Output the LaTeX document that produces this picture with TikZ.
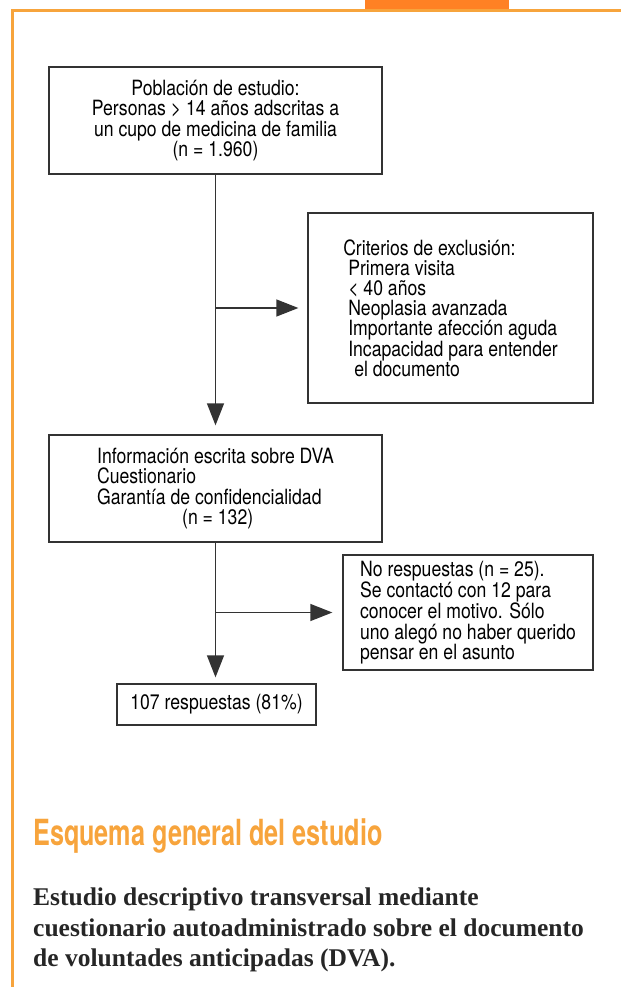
\documentclass[tikz,border=0pt]{standalone}
\usepackage{fontspec}
\setmainfont{TeX Gyre Heros}[FakeStretch=0.84]
\newfontfamily\titlefont{TeX Gyre Heros}[FakeStretch=0.70]
\newfontfamily\leadfont{Liberation Serif}
\usetikzlibrary{arrows.meta}
\definecolor{frameorange}{HTML}{F7A43C}
\definecolor{taborange}{HTML}{FF8124}
\definecolor{boxgray}{HTML}{333333}
\tikzset{
  caja/.style={draw=boxgray, line width=1.3pt, inner sep=0pt,
    font=\fontsize{21}{20.2}\selectfont},
  flecha/.style={draw=boxgray, line width=1.3pt,
    -{Triangle[length=22pt,width=17pt]}}
}

\begin{document}
\begin{tikzpicture}[x=1pt,y=-1pt]
\useasboundingbox (0,0) rectangle (621,987);
% marco naranja
\fill[taborange] (365,0) rectangle (509,9.5);
\draw[frameorange, line width=3pt] (12,987) -- (12,11) -- (621,11);
% cajas
\node[caja, minimum width=333pt, minimum height=107pt, align=center] (poblacion) at (215.5,120.5)
  {Población de estudio:\\ Personas > 14 años adscritas a\\ un cupo de medicina de familia\\ (n = 1.960)};
\node[caja, minimum width=285pt, minimum height=190pt, align=left] (exclusion) at (450.5,308)
  {Criterios de exclusión:\\
   \hspace*{5pt}Primera visita\\
   \hspace*{5pt}< 40 años\\
   \hspace*{5pt}Neoplasia avanzada\\
   \hspace*{5pt}Importante afección aguda\\
   \hspace*{5pt}Incapacidad para entender\\
   \hspace*{11pt}el documento};
\node[caja, minimum width=333pt, minimum height=107pt, align=left] (informacion) at (215.5,488.5)
  {Información escrita sobre DVA\\ Cuestionario\\ Garantía de confidencialidad\\ \hspace*{85pt}(n = 132)};
\node[caja, minimum width=250pt, minimum height=115pt, align=left] (norespuesta) at (468,612.5)
  {No respuestas (n = 25).\\ Se contactó con 12 para\\ conocer el motivo. Sólo\\ uno alegó no haber querido\\ pensar en el asunto};
\node[caja, minimum width=199pt, minimum height=41pt] (respuestas) at (216.5,704.5)
  {107 respuestas (81\%)};
% flechas
\coordinate (rama1) at (215.5,308);
\coordinate (rama2) at (215.5,612.5);
\draw[flecha, shorten >=9pt] (poblacion.south) -- (informacion.north);
\draw[flecha, shorten >=9pt] (rama1) -- (exclusion.west);
\draw[flecha, shorten >=6pt] (informacion.south) -- (informacion.south |- respuestas.north);
\draw[flecha, shorten >=10pt] (rama2) -- (norespuesta.west);
% texto inferior
\node[anchor=base west, inner sep=0pt, text=frameorange,
  font=\titlefont\bfseries\fontsize{36}{36}\selectfont] (titulo) at (33,845)
  {Esquema general del estudio};
\node[anchor=north west, inner sep=0pt, align=left, text=black!85,
  font=\leadfont\bfseries\fontsize{25.5}{30.5}\selectfont] (descripcion) at (33,888)
  {Estudio descriptivo transversal mediante\\
   cuestionario autoadministrado sobre el documento\\
   de voluntades anticipadas (DVA).};
\end{tikzpicture}
\end{document}
